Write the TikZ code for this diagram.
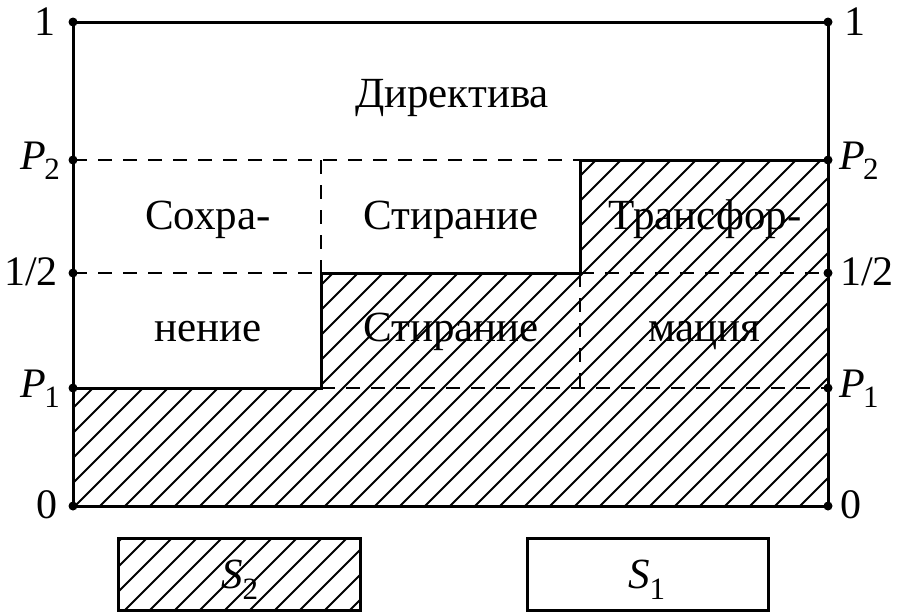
\documentclass[tikz,border=0pt]{standalone}
\usepackage{fontspec}
\setmainfont{Liberation Serif}
\newcommand{\Psub}[1]{\textit{P}\kern-0.04em\raisebox{-0.26em}{\fontsize{31}{31}\selectfont #1}}
\newcommand{\Ssub}[1]{\textit{S}\kern-0.02em\raisebox{-0.26em}{\fontsize{31}{31}\selectfont #1}}
\begin{document}
\begin{tikzpicture}[x=1pt,y=-1pt,
  solidline/.style={line width=3pt},
  dashline/.style={line width=2pt,dash pattern=on 14pt off 11pt},
  hatchline/.style={line width=1.8pt},
  dot/.style={circle,fill=black,inner sep=0pt,minimum size=9pt},
  txt/.style={font=\fontsize{43}{43}\selectfont,inner sep=0pt,anchor=base},
  lbl/.style={font=\fontsize{42}{42}\selectfont,inner sep=0pt}]
\useasboundingbox (0,0) rectangle (900,614);
% hatching
\begin{scope}
\clip (73,506) -- (73,388) -- (321,388) -- (321,273) -- (580,273) -- (580,160) -- (828,160) -- (828,506) -- cycle;
\foreach \i in {-500,-475,...,850} \draw[hatchline] (\i,506) -- ++(500,-500);
\end{scope}
% coordinates
\coordinate (L1) at (73,22); \coordinate (R1) at (828,22);
\coordinate (LP2) at (73,160); \coordinate (RP2) at (828,160);
\coordinate (LH) at (73,273); \coordinate (RH) at (828,273);
\coordinate (LP1) at (73,388); \coordinate (RP1) at (828,388);
\coordinate (L0) at (73,506); \coordinate (R0) at (828,506);
\coordinate (aP2) at (321,160); \coordinate (aH) at (321,273); \coordinate (aP1) at (321,388);
\coordinate (bP2) at (580,160); \coordinate (bH) at (580,273); \coordinate (bP1) at (580,388);
% dashed lines
\draw[dashline] (LP2) -- (bP2);
\draw[dashline] (LH) -- (aH);
\draw[dashline] (bH) -- (RH);
\draw[dashline] (aP1) -- (RP1);
\draw[dashline] (aP2) -- (aH);
\draw[dashline] (bH) -- (bP1);
% solid lines
\draw[solidline] (L0) -- (L1) -- (R1) -- (R0) -- cycle;
\draw[solidline] (LP1) -- (aP1) -- (aH) -- (bH) -- (bP2) -- (RP2);
% dots
\foreach \p in {L1,R1,LP2,RP2,LH,RH,LP1,RP1,L0,R0} \node[dot] at (\p) {};
% left labels
\node[lbl,anchor=base east] (tl1) at (56,35) {1};
\node[lbl,anchor=base east] (tlp2) at (60,169) {\Psub{2}};
\node[lbl,anchor=base east] (tlh) at (58,285) {1/2};
\node[lbl,anchor=base east] (tlp1) at (60,397) {\Psub{1}};
\node[lbl,anchor=base east] (tl0) at (58,518) {0};
% right labels
\node[lbl,anchor=base west] (tr1) at (844,35) {1};
\node[lbl,anchor=base west] (trp2) at (839,169) {\Psub{2}};
\node[lbl,anchor=base west] (trh) at (840,285) {1/2};
\node[lbl,anchor=base west] (trp1) at (839,397) {\Psub{1}};
\node[lbl,anchor=base west] (tr0) at (840,518) {0};
% region texts
\node[txt] (dir) at (452,107) {Директива};
\node[txt] (sox1) at (208,229) {Сохра-};
\node[txt] (sox2) at (208,341) {нение};
\node[txt] (st1) at (451,229) {Стирание};
\node[txt] (st2) at (451,341) {Стирание};
\node[txt] (tr1t) at (705,229) {Трансфор-};
\node[txt] (tr2t) at (704,341) {мация};
% legend
\begin{scope}
\clip (118,538) rectangle (360,610);
\foreach \i in {-100,-75,...,400} \draw[hatchline] (\i,610) -- ++(100,-100);
\end{scope}
\draw[solidline] (118,538) rectangle (360,610);
\node[txt] (s2) at (240,588) {\Ssub{2}};
\draw[solidline] (527,538) rectangle (768,610);
\node[txt] (s1) at (647,588) {\Ssub{1}};
\end{tikzpicture}
\end{document}
